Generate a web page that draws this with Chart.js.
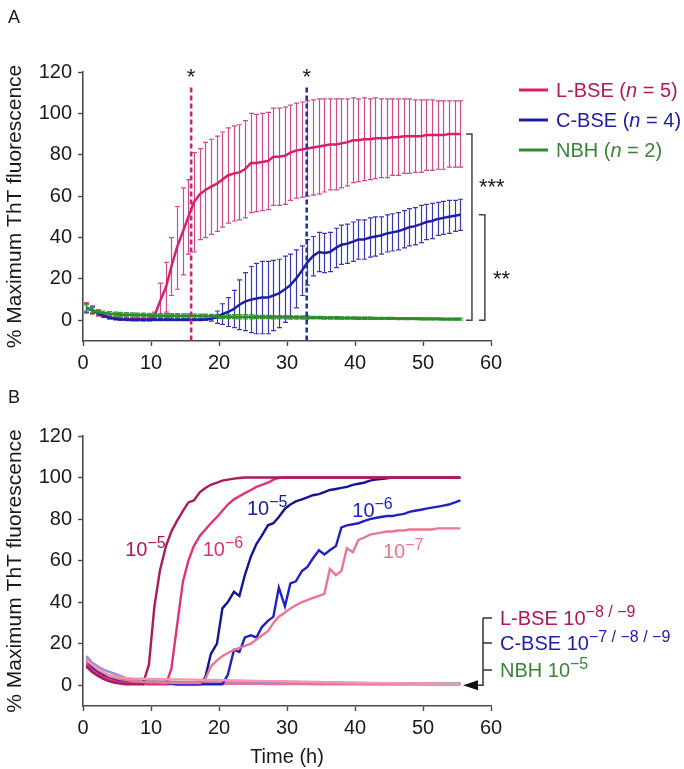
<!DOCTYPE html>
<html><head><meta charset="utf-8">
<script src="https://cdn.jsdelivr.net/npm/chart.js@4.4.1/dist/chart.umd.min.js"></script>
<style>
html,body{margin:0;padding:0;background:#fff;}
#wrap{position:relative;width:684px;height:769px;}
#cA{position:absolute;left:0;top:0;}
#cB{position:absolute;left:0;top:385px;}
</style></head><body>
<div id="wrap">
<canvas id="cA" width="684" height="385"></canvas>
<canvas id="cB" width="684" height="384"></canvas>
</div>
<script>
// ---------- shared axes ----------
const times = [
  0.5, 1.3, 2.2, 3.0, 3.8, 4.7, 5.5, 6.3, 7.2, 8.0,
  8.8, 9.7, 10.5, 11.3, 12.2, 13.0, 13.8, 14.7, 15.5, 16.3,
  17.2, 18.0, 18.8, 19.7, 20.5, 21.3, 22.2, 23.0, 23.8, 24.7,
  25.5, 26.3, 27.2, 28.0, 28.8, 29.7, 30.5, 31.3, 32.2, 33.0,
  33.8, 34.7, 35.5, 36.3, 37.2, 38.0, 38.8, 39.7, 40.5, 41.3,
  42.2, 43.0, 43.8, 44.7, 45.5, 46.3, 47.2, 48.0, 48.8, 49.7,
  50.5, 51.3, 52.2, 53.0, 53.8, 54.7, 55.5];
const xTicks = [0, 10, 20, 30, 40, 50, 60];
const yTicks = [0, 20, 40, 60, 80, 100, 120];

// ---------- panel A ----------
const lbseMean = [
  6, 5, 3.5, 2.5, 1.5, 1, 0.8, 0.6, 0.5, 0.5,
  0.4, 0.4, 2, 9, 16, 26, 35, 43, 50, 57,
  61, 63, 64.5, 66, 68, 70, 71, 71.5, 73, 76,
  76, 76.5, 77, 79, 79, 79.5, 81, 82, 82.5, 83,
  83.5, 84, 84.5, 85, 85, 85.5, 86, 87, 87, 87.5,
  87.5, 88, 88, 88, 88.5, 88.5, 89, 89, 89, 89,
  89.5, 89.5, 89.5, 89.5, 90, 90, 90];
const lbseErr = [
  2.5, 2, 1.5, 1, 1, 0.8, 0.8, 0.8, 0.8, 0.8,
  0.8, 0.8, 2, 9, 12, 14, 20, 21, 18, 24,
  22, 23, 23, 23, 23, 23, 23, 23, 23.5, 24,
  23.5, 23.5, 23.5, 23.5, 23.5, 23.5, 23, 23, 23, 23,
  23, 23, 22.5, 22, 22, 21.5, 21, 20.5, 20, 20,
  19.5, 19.5, 19, 19, 18.5, 18.5, 18, 18, 17.5, 17.5,
  17, 17, 16.5, 16.5, 16, 16, 16];
const cbseMean = [
  6, 5, 3.5, 2.2, 1.3, 0.8, 0.5, 0.4, 0.3, 0.3,
  0.3, 0.3, 0.3, 0.3, 0.3, 0.3, 0.3, 0.3, 0.3, 0.3,
  0.3, 0.4, 0.6, 1.5, 3, 4, 5.5, 7.5, 9, 10,
  10.5, 11, 11, 12, 13, 15, 17, 20, 24, 28,
  31, 33, 32.5, 33, 35, 36.5, 37, 38, 39, 39,
  40, 40.5, 41, 42, 42.5, 43, 44, 45, 45.5, 46.5,
  47.5, 48, 49, 49.5, 50, 50.5, 51];
const cbseErr = [
  2, 1.5, 1, 0.8, 0.5, 0.5, 0.5, 0.5, 0.5, 0.5,
  0.5, 0.5, 0.5, 0.5, 0.5, 0.5, 0.5, 0.5, 0.5, 0.5,
  0.5, 0.5, 1, 3, 5, 7, 9, 12, 14, 16,
  17, 17.5, 17.5, 17, 16.5, 16, 15, 14, 12, 11,
  9.5, 9.5, 9.5, 9.5, 9.5, 9.5, 9.5, 9.5, 9.5, 9.5,
  9.5, 9.5, 9, 9, 9, 9, 9, 9, 9, 9,
  8.5, 8.5, 8, 8, 8, 7.5, 7.5];
const nbhMean = [
  6, 5, 4, 3.5, 3.2, 3, 2.8, 2.7, 2.6, 2.5,
  2.5, 2.4, 2.4, 2.3, 2.3, 2.2, 2.2, 2.1, 2.1, 2.0,
  2.0, 2.0, 1.9, 1.9, 1.8, 1.8, 1.8, 1.7, 1.7, 1.7,
  1.6, 1.6, 1.6, 1.5, 1.5, 1.5, 1.4, 1.4, 1.4, 1.3,
  1.3, 1.3, 1.2, 1.2, 1.2, 1.1, 1.1, 1.1, 1.0, 1.0,
  1.0, 0.9, 0.9, 0.9, 0.9, 0.8, 0.8, 0.8, 0.8, 0.7,
  0.7, 0.7, 0.7, 0.6, 0.6, 0.6, 0.6];
const nbhErr = [
  1.5, 1.2, 1, 1, 1, 1, 1, 1, 1, 1,
  1, 1, 1, 1, 1, 1, 1, 1, 1, 1,
  1, 1, 1, 1, 1, 1, 1, 1, 1, 1,
  0.8, 0.8, 0.8, 0.8, 0.8, 0.8, 0.8, 0.8, 0.8, 0.8,
  0.6, 0.6, 0.6, 0.6, 0.6, 0.6, 0.6, 0.6, 0.6, 0.6,
  0.5, 0.5, 0.5, 0.5, 0.5, 0.5, 0.5, 0.5, 0.5, 0.5,
  0.5, 0.5, 0.5, 0.5, 0.5, 0.5, 0.5];
const markerTimes = [15.9, 32.9];   // dashed significance lines (h)
const markerTop = 112.5;
const legendA = [
  {name: 'L-BSE', n: '5', color: '#B2185C', line: '#D81F6E'},
  {name: 'C-BSE', n: '4', color: '#1C1CA8', line: '#1E1EAA'},
  {name: 'NBH',   n: '2', color: '#3C823C', line: '#2E8B2E'}];

// ---------- panel B ----------
const bL5 = [
  9, 6.5, 4.5, 3, 2, 1.2, 0.8, 0.5, 0.4, 0.4,
  0.4, 10, 38, 55, 67, 74, 79, 84, 88, 89,
  93, 95, 96.5, 97.5, 98.5, 99, 99.5, 99.8, 100, 100,
  100, 100, 100, 100, 100, 100, 100, 100, 100, 100,
  100, 100, 100, 100, 100, 100, 100, 100, 100, 100,
  100, 100, 100, 100, 100, 100, 100, 100, 100, 100,
  100, 100, 100, 100, 100, 100, 100];
const bL6 = [
  10, 7.5, 5.5, 4, 3, 2, 1.5, 1.2, 1, 0.8,
  0.6, 0.5, 0.4, 0.4, 0.4, 8, 28, 50, 60, 67,
  72, 75, 78, 81, 84, 87, 89.5, 91, 92.5, 94,
  95.5, 96.5, 97.5, 99, 99.8, 100, 100, 100, 100, 100,
  100, 100, 100, 100, 100, 100, 100, 100, 100, 100,
  100, 100, 100, 100, 100, 100, 100, 100, 100, 100,
  100, 100, 100, 100, 100, 100, 100];
const bL7 = [
  13, 10, 7.5, 6, 4.5, 3.5, 3, 2.5, 2, 1.8,
  1.6, 1.5, 1.4, 1.3, 1.2, 1.1, 1, 1, 1, 1,
  1, 3, 9, 12, 14, 15.5, 17, 18, 19, 20,
  22, 24, 26, 30, 33, 35, 37, 38.5, 40, 41,
  42, 43, 44, 56, 53, 55, 66, 64, 70, 71,
  72.5, 73, 73.5, 74, 74, 74.5, 74.5, 75, 75, 75,
  75, 75, 75.5, 75.5, 75.5, 75.5, 75.5];
const bC5 = [
  9, 7, 5, 4, 3, 2.5, 2, 1.5, 1.5, 1,
  1, 1, 1, 1, 0.8, 0.8, 0.5, 0.5, 0.5, 0.5,
  0.5, 4, 15, 20, 37, 40, 45, 43, 53, 62,
  68, 72, 77, 78, 81, 85, 87, 88.5, 89.5, 90.5,
  91.5, 92, 93, 94, 94.5, 95, 95.5, 96.5, 97, 97.5,
  98.5, 99, 99.3, 99.6, 100, 100, 100, 100, 100, 100,
  100, 100, 100, 100, 100, 100, 100];
const bC6 = [
  12, 9, 6.5, 5, 4, 3, 2.5, 2, 1.5, 1.2,
  1, 1, 0.8, 0.8, 0.6, 0.6, 0.5, 0.5, 0.5, 0.5,
  0.5, 0.5, 0.5, 0.5, 0.5, 5, 17, 16, 23, 24,
  23, 28, 31, 33, 47, 38, 49, 50, 55, 57,
  61, 65, 63, 65, 67, 76, 77, 77.5, 78, 79,
  80, 80.5, 81, 81.5, 81.5, 82, 82.5, 83.5, 84, 84.5,
  85, 85.5, 86, 86.5, 87, 88, 89];
const bL8 = [
  11, 8, 6, 4.5, 3.5, 2.5, 2, 1.6, 1.3, 1.1,
  1, 1, 0.9, 0.9, 0.9, 0.8, 0.8, 0.8, 0.8, 0.8,
  0.7, 0.7, 0.7, 0.7, 0.7, 0.7, 0.7, 0.7, 0.7, 0.7,
  0.7, 0.7, 0.6, 0.6, 0.6, 0.6, 0.6, 0.6, 0.6, 0.6,
  0.5, 0.5, 0.5, 0.5, 0.5, 0.5, 0.5, 0.5, 0.5, 0.5,
  0.5, 0.5, 0.5, 0.5, 0.5, 0.5, 0.5, 0.5, 0.5, 0.5,
  0.4, 0.4, 0.4, 0.4, 0.4, 0.4, 0.4];
const bL9 = [
  12, 10, 8, 6.5, 5, 4.3, 3.8, 3.5, 3.3, 3.2,
  3.1, 3.0, 3.0, 2.9, 2.9, 2.8, 2.8, 2.8, 2.7, 2.7,
  2.6, 2.6, 2.5, 2.5, 2.4, 2.4, 2.3, 2.3, 2.2, 2.2,
  2.1, 2.1, 2.0, 2.0, 1.9, 1.9, 1.8, 1.8, 1.7, 1.7,
  1.6, 1.6, 1.5, 1.5, 1.4, 1.4, 1.3, 1.3, 1.2, 1.2,
  1.1, 1.1, 1.0, 1.0, 1.0, 0.9, 0.9, 0.9, 0.8, 0.8,
  0.8, 0.7, 0.7, 0.7, 0.6, 0.6, 0.6];
const bC7 = [
  14, 11, 9, 7.5, 6.5, 5.5, 4.5, 3.5, 3, 2.5,
  2.2, 2, 1.9, 1.8, 1.7, 1.6, 1.5, 1.5, 1.4, 1.4,
  1.3, 1.3, 1.3, 1.2, 1.2, 1.2, 1.1, 1.1, 1.1, 1.0,
  1.0, 1.0, 1.0, 1.0, 1.0, 1.0, 1.0, 1.0, 1.0, 1.0,
  0.9, 0.9, 0.9, 0.9, 0.9, 0.9, 0.9, 0.9, 0.9, 0.9,
  0.8, 0.8, 0.8, 0.8, 0.8, 0.8, 0.8, 0.8, 0.8, 0.8,
  0.7, 0.7, 0.7, 0.7, 0.7, 0.7, 0.7];
const bC8 = [
  12, 9.5, 7.5, 6, 5, 4, 3.2, 2.6, 2.2, 2,
  1.8, 1.7, 1.6, 1.5, 1.5, 1.4, 1.4, 1.3, 1.3, 1.3,
  1.2, 1.2, 1.2, 1.2, 1.2, 1.2, 1.2, 1.2, 1.2, 1.2,
  1.1, 1.1, 1.1, 1.1, 1.1, 1.1, 1.1, 1.1, 1.1, 1.1,
  1.0, 1.0, 1.0, 1.0, 1.0, 1.0, 1.0, 1.0, 1.0, 1.0,
  0.9, 0.9, 0.9, 0.9, 0.9, 0.9, 0.9, 0.9, 0.9, 0.9,
  0.8, 0.8, 0.8, 0.8, 0.8, 0.8, 0.8];
const bC9 = [
  10, 8, 6, 4.5, 3.5, 2.8, 2.2, 1.8, 1.5, 1.3,
  1.2, 1.1, 1.0, 1.0, 1.0, 0.9, 0.9, 0.9, 0.9, 0.9,
  0.8, 0.8, 0.8, 0.8, 0.8, 0.8, 0.8, 0.8, 0.8, 0.8,
  0.8, 0.8, 0.8, 0.8, 0.8, 0.8, 0.8, 0.8, 0.8, 0.8,
  0.7, 0.7, 0.7, 0.7, 0.7, 0.7, 0.7, 0.7, 0.7, 0.7,
  0.6, 0.6, 0.6, 0.6, 0.6, 0.6, 0.6, 0.6, 0.6, 0.6,
  0.5, 0.5, 0.5, 0.5, 0.5, 0.5, 0.5];
const bNBH = [
  11, 9, 7, 5.5, 4.5, 3.6, 3, 2.6, 2.3, 2.1,
  2, 1.9, 1.8, 1.8, 1.7, 1.7, 1.6, 1.6, 1.5, 1.5,
  1.5, 1.4, 1.4, 1.4, 1.3, 1.3, 1.3, 1.2, 1.2, 1.2,
  1.1, 1.1, 1.1, 1.1, 1.1, 1.1, 1.1, 1.1, 1.1, 1.1,
  1.0, 1.0, 1.0, 1.0, 1.0, 1.0, 1.0, 1.0, 1.0, 1.0,
  0.9, 0.9, 0.9, 0.9, 0.9, 0.9, 0.9, 0.9, 0.9, 0.9,
  0.8, 0.8, 0.8, 0.8, 0.8, 0.8, 0.8];
// curve labels in panel B: [x (h), y (% at text baseline), exponent, colour]
const curveLabelsB = [
  {x: 6.2,  y: 62,   exp: '\u22125', color: '#B0145E'},
  {x: 17.6, y: 62,   exp: '\u22126', color: '#E0307A'},
  {x: 24.1, y: 82.2, exp: '\u22125', color: '#1A1A9A'},
  {x: 39.6, y: 80.8, exp: '\u22126', color: '#2222C4'},
  {x: 44.1, y: 61.5, exp: '\u22127', color: '#E8788F'}];
const legendB = [
  {name: 'L-BSE 10', exp: '\u22128 / \u22129', color: '#B0145E'},
  {name: 'C-BSE 10', exp: '\u22127 / \u22128 / \u22129', color: '#1C1CB0'},
  {name: 'NBH 10', exp: '\u22125', color: '#3C823C'}];

// ---------- helpers ----------
const FONT = "'Liberation Sans', Arial, Helvetica, sans-serif";
Chart.defaults.font.family = FONT;
Chart.defaults.color = '#1a1a1a';
const pts = arr => times.map((t, i) => ({x: t, y: arr[i]}));

function axisOpts(yTitle, xTitle, xHeight) {
  const grid = {display: true, drawOnChartArea: false, drawTicks: true, tickLength: 5,
                tickWidth: 1.4, tickColor: '#4a4a4a', color: '#4a4a4a'};
  const border = {display: true, color: '#4a4a4a', width: 1.6};
  return {
    x: {type: 'linear', min: 0, max: 60,
        afterBuildTicks: s => { s.ticks = xTicks.map(v => ({value: v})); },
        afterFit: s => { s.height = xHeight; },
        grid, border,
        ticks: {font: {size: 20}, padding: 5, maxRotation: 0, autoSkip: false, color: '#1a1a1a'},
        title: xTitle ? {display: true, text: xTitle, font: {size: 20}, padding: {top: 0, bottom: 0}, color: '#1a1a1a'}
                      : {display: false}},
    y: {type: 'linear', min: -10, max: 120,
        afterBuildTicks: s => { s.ticks = yTicks.map(v => ({value: v})); },
        afterFit: s => { s.width = 83; },
        grid, border,
        ticks: {font: {size: 20}, padding: 6, color: '#1a1a1a'},
        title: {display: true, text: yTitle, font: {size: 21}, padding: {top: 3, bottom: 0}, color: '#1a1a1a'}}
  };
}

function drawErr(ctx, xs, ys, m, e, col) {
  ctx.save();
  ctx.strokeStyle = col; ctx.lineWidth = 1.2;
  times.forEach((t, i) => {
    const px = Math.round(xs.getPixelForValue(t)) + 0.5;
    const top = ys.getPixelForValue(m[i] + e[i]);
    const bot = ys.getPixelForValue(m[i] - e[i]);
    ctx.beginPath();
    ctx.moveTo(px, top); ctx.lineTo(px, bot);
    ctx.moveTo(px - 2.5, top); ctx.lineTo(px + 2.5, top);
    ctx.moveTo(px - 2.5, bot); ctx.lineTo(px + 2.5, bot);
    ctx.stroke();
  });
  ctx.restore();
}

function rich(ctx, x, y, segs, color) {
  let cx = x;
  segs.forEach(s => {
    const size = s.sup ? 16 : 20;
    ctx.font = (s.it ? 'italic ' : '') + size + 'px ' + FONT;
    ctx.fillStyle = color;
    ctx.textBaseline = 'alphabetic';
    ctx.textAlign = 'left';
    ctx.fillText(s.t, cx, s.sup ? y - 8 : y);
    cx += ctx.measureText(s.t).width;
  });
}

// ---------- chart A ----------
const pluginA = {
  id: 'panelA',
  beforeDatasetsDraw(chart) {
    const {ctx, scales: {x, y}} = chart;
    drawErr(ctx, x, y, lbseMean, lbseErr, '#CE4A88');
    drawErr(ctx, x, y, cbseMean, cbseErr, '#3A3AB0');
    drawErr(ctx, x, y, nbhMean, nbhErr, '#3B9A3B');
  },
  afterDraw(chart) {
    const {ctx, scales: {x, y}} = chart;
    ctx.save();
    // panel letter
    ctx.fillStyle = '#1a1a1a'; ctx.font = '18px ' + FONT; ctx.textAlign = 'left';
    ctx.textBaseline = 'alphabetic';
    ctx.fillText('A', 8, 23);
    // asterisks above dashed lines
    ctx.font = '22px ' + FONT; ctx.textAlign = 'center';
    markerTimes.forEach(t => ctx.fillText('*', x.getPixelForValue(t), y.getPixelForValue(120) + 12));
    // brackets
    ctx.strokeStyle = '#444'; ctx.lineWidth = 1.5;
    const lTop = lbseMean[lbseMean.length - 1], cTop = cbseMean[cbseMean.length - 1];
    const yB = y.getPixelForValue(0);
    const b1 = x.getPixelForValue(57.2), t1 = y.getPixelForValue(lTop);
    const b2 = x.getPixelForValue(59.1), t2 = y.getPixelForValue(cTop);
    ctx.beginPath();
    ctx.moveTo(b1 - 6, t1); ctx.lineTo(b1, t1); ctx.lineTo(b1, yB); ctx.lineTo(b1 - 6, yB);
    ctx.moveTo(b2 - 6, t2); ctx.lineTo(b2, t2); ctx.lineTo(b2, yB); ctx.lineTo(b2 - 6, yB);
    ctx.stroke();
    ctx.textAlign = 'left';
    ctx.fillText('***', b1 + 7, y.getPixelForValue(lTop * 0.74) + 12);
    ctx.fillText('**', b2 + 8, y.getPixelForValue(cTop * 0.44) + 12);
    // legend
    legendA.forEach((d, i) => {
      const cy = 90 + i * 30;
      ctx.strokeStyle = d.line; ctx.lineWidth = 3;
      ctx.beginPath(); ctx.moveTo(519, cy); ctx.lineTo(548, cy); ctx.stroke();
      rich(ctx, 556, cy + 7, [{t: d.name + ' ('}, {t: 'n', it: true}, {t: ' = ' + d.n + ')'}], d.color);
    });
    ctx.restore();
  }
};

new Chart(document.getElementById('cA'), {
  type: 'line',
  data: {datasets: [
    {label: 'marker1', data: [{x: markerTimes[0], y: markerTop}, {x: markerTimes[0], y: -10}],
     borderColor: '#C8287A', borderDash: [5, 3], borderWidth: 2.6},
    {label: 'marker2', data: [{x: markerTimes[1], y: markerTop}, {x: markerTimes[1], y: -10}],
     borderColor: '#2233A0', borderDash: [5, 3], borderWidth: 2.6},
    {label: 'NBH (n = 2)', data: pts(nbhMean), borderColor: '#2E8B2E', borderWidth: 2.8},
    {label: 'C-BSE (n = 4)', data: pts(cbseMean), borderColor: '#1E1EAA', borderWidth: 2.5},
    {label: 'L-BSE (n = 5)', data: pts(lbseMean), borderColor: '#D81F6E', borderWidth: 2.5}
  ]},
  options: {
    responsive: false, animation: false, devicePixelRatio: 1,
    layout: {padding: {top: 72, right: 193, left: 0, bottom: 0}},
    elements: {point: {radius: 0}, line: {tension: 0}},
    plugins: {legend: {display: false}, tooltip: {enabled: false}},
    scales: axisOpts('% Maximum ThT fluorescence', null, 44)
  },
  plugins: [pluginA]
});

// ---------- chart B ----------
const pluginB = {
  id: 'panelB',
  afterDraw(chart) {
    const {ctx, scales: {x, y}, chartArea} = chart;
    ctx.save();
    ctx.fillStyle = '#1a1a1a'; ctx.font = '18px ' + FONT; ctx.textAlign = 'left';
    ctx.textBaseline = 'alphabetic';
    ctx.fillText('B', 8, 18);
    curveLabelsB.forEach(l => {
      rich(ctx, x.getPixelForValue(l.x), y.getPixelForValue(l.y), [{t: '10'}, {t: l.exp, sup: true}], l.color);
    });
    // right-side grouped legend with bracket + arrow
    const r = chartArea.right;
    const rows = [240, 265, 292];
    ctx.strokeStyle = '#333'; ctx.lineWidth = 1.5;
    const vx = r - 8, y0 = y.getPixelForValue(0);
    ctx.beginPath();
    ctx.moveTo(vx, rows[0] - 7); ctx.lineTo(vx, y0); ctx.lineTo(r - 14, y0);
    rows.forEach(ry => { ctx.moveTo(vx, ry - 7); ctx.lineTo(r + 1, ry - 7); });
    ctx.stroke();
    ctx.fillStyle = '#111';
    ctx.beginPath();
    ctx.moveTo(r - 28, y0); ctx.lineTo(r - 13, y0 - 5); ctx.lineTo(r - 13, y0 + 5); ctx.closePath();
    ctx.fill();
    legendB.forEach((d, i) => {
      rich(ctx, r + 9, rows[i], [{t: d.name}, {t: d.exp, sup: true}], d.color);
    });
    ctx.restore();
  }
};

const lw = 2.4;
new Chart(document.getElementById('cB'), {
  type: 'line',
  data: {datasets: [
    {label: 'L-BSE 10^-9', data: pts(bL9), borderColor: '#EE9AA8', borderWidth: lw},
    {label: 'L-BSE 10^-7', data: pts(bL7), borderColor: '#E8788F', borderWidth: lw},
    {label: 'L-BSE 10^-5', data: pts(bL5), borderColor: '#A91A5E', borderWidth: lw},
    {label: 'L-BSE 10^-6', data: pts(bL6), borderColor: '#E0327A', borderWidth: lw},
    {label: 'C-BSE 10^-6', data: pts(bC6), borderColor: '#2020C4', borderWidth: lw},
    {label: 'C-BSE 10^-5', data: pts(bC5), borderColor: '#15158F', borderWidth: lw},
    {label: 'L-BSE 10^-8', data: pts(bL8), borderColor: '#EC6FA0', borderWidth: lw},
    {label: 'C-BSE 10^-7', data: pts(bC7), borderColor: '#8E8EDD', borderWidth: lw},
    {label: 'C-BSE 10^-8', data: pts(bC8), borderColor: '#A6A6E8', borderWidth: lw},
    {label: 'C-BSE 10^-9', data: pts(bC9), borderColor: '#7B7BD2', borderWidth: lw},
    {label: 'NBH 10^-5', data: pts(bNBH), borderColor: '#86B486', borderWidth: lw}
  ]},
  options: {
    responsive: false, animation: false, devicePixelRatio: 1,
    layout: {padding: {top: 51, right: 193, left: 0, bottom: 0}},
    elements: {point: {radius: 0}, line: {tension: 0}},
    plugins: {legend: {display: false}, tooltip: {enabled: false}},
    scales: axisOpts('% Maximum ThT fluorescence', 'Time (h)', 63)
  },
  plugins: [pluginB]
});
</script>
</body></html>
